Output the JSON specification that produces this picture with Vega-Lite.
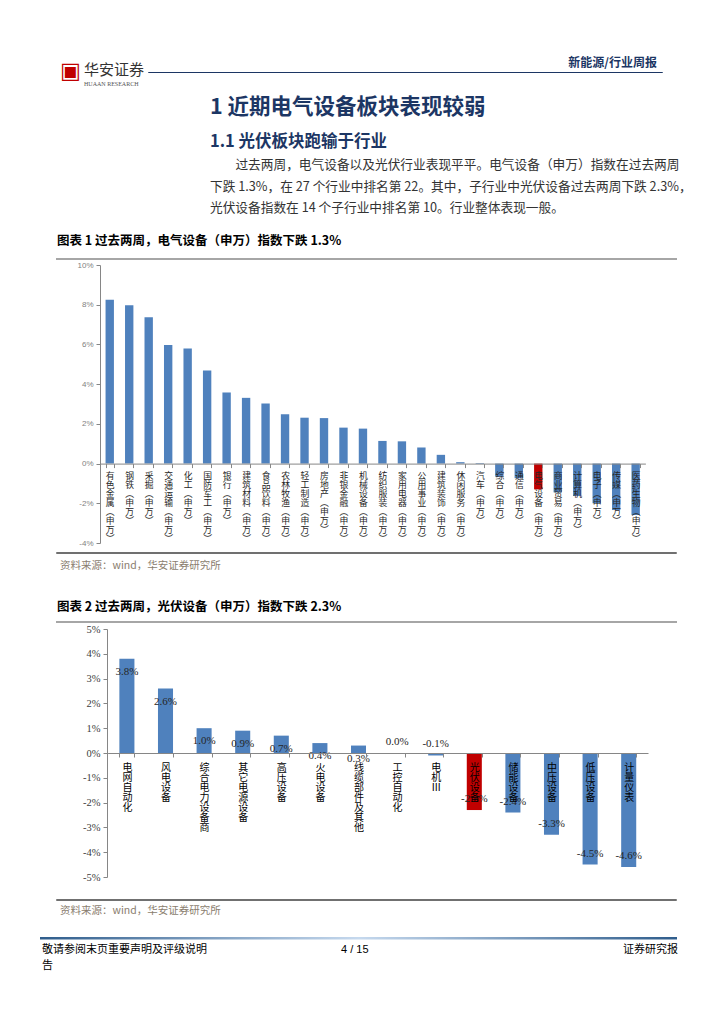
{
  "$schema": "https://vega.github.io/schema/vega-lite/v6.json",
  "background": "white",
  "padding": {"left": 40, "top": 0, "right": 0, "bottom": 0},
  "autosize": {"type": "pad"},
  "config": {
    "view": {"stroke": null},
    "locale": {"number": {"decimal": ".", "thousands": ",", "grouping": [3], "currency": ["", ""], "minus": "-"}},
    "title": {"anchor": "start", "frame": "group", "limit": 2000, "font": "Noto Sans CJK SC", "fontWeight": "normal", "color": "#000000"}
  },
  "datasets": {
    "blank": [{}],
    "industry": [
      {"name": "有色金属(申万)", "value": 0.0825},
      {"name": "钢铁(申万)", "value": 0.0797},
      {"name": "采掘(申万)", "value": 0.0737},
      {"name": "交通运输(申万)", "value": 0.0597},
      {"name": "化工(申万)", "value": 0.0580},
      {"name": "国防军工(申万)", "value": 0.0469},
      {"name": "银行(申万)", "value": 0.0358},
      {"name": "建筑材料(申万)", "value": 0.0331},
      {"name": "食品饮料(申万)", "value": 0.0302},
      {"name": "农林牧渔(申万)", "value": 0.0249},
      {"name": "轻工制造(申万)", "value": 0.0231},
      {"name": "房地产(申万)", "value": 0.0229},
      {"name": "非银金融(申万)", "value": 0.0181},
      {"name": "机械设备(申万)", "value": 0.0176},
      {"name": "纺织服装(申万)", "value": 0.0114},
      {"name": "家用电器(申万)", "value": 0.0112},
      {"name": "公用事业(申万)", "value": 0.0081},
      {"name": "建筑装饰(申万)", "value": 0.0044},
      {"name": "休闲服务(申万)", "value": 0.0007},
      {"name": "汽车(申万)", "value": 0.0003},
      {"name": "综合(申万)", "value": -0.0066},
      {"name": "通信(申万)", "value": -0.0074},
      {"name": "电气设备(申万)", "value": -0.013},
      {"name": "商业贸易(申万)", "value": -0.0145},
      {"name": "计算机(申万)", "value": -0.0163},
      {"name": "电子(申万)", "value": -0.020},
      {"name": "传媒(申万)", "value": -0.0234},
      {"name": "医药生物(申万)", "value": -0.0259}
    ],
    "pv": [
      {"name": "电网自动化", "value": 0.038},
      {"name": "风电设备", "value": 0.026},
      {"name": "综合电力设备商", "value": 0.010},
      {"name": "其它电源设备", "value": 0.009},
      {"name": "高压设备", "value": 0.007},
      {"name": "火电设备", "value": 0.004},
      {"name": "线缆部件及其他", "value": 0.003},
      {"name": "工控自动化", "value": 0.0},
      {"name": "电机Ⅲ", "value": -0.001},
      {"name": "光伏设备", "value": -0.023},
      {"name": "储能设备", "value": -0.024},
      {"name": "中压设备", "value": -0.033},
      {"name": "低压设备", "value": -0.045},
      {"name": "计量仪表", "value": -0.046}
    ]
  },
  "spacing": 0,
  "bounds": "flush",
  "vconcat": [
    {"width": 640, "height": 72, "data": {"name": "blank"}, "mark": {"type": "rect", "opacity": 0}},
    {
      "spacing": 0, "bounds": "flush",
      "hconcat": [
        {"width": 20, "height": 0.001, "data": {"name": "blank"}, "mark": {"type": "rect", "opacity": 0}},
        {"width": 22, "height": 0.001, "data": {"name": "blank"}, "mark": {"type": "rect", "opacity": 0},
         "title": {"text": "▣", "font": "DejaVu Sans", "fontSize": 22, "color": "#c00000", "offset": -11}},
        {"width": 66, "height": 0.001, "data": {"name": "blank"}, "mark": {"type": "rect", "opacity": 0},
         "title": {"text": "华安证券", "fontSize": 15, "color": "#333333", "dx": 2, "offset": -15,
                   "subtitle": "HUAAN RESEARCH", "subtitleFont": "Liberation Serif", "subtitleFontSize": 6, "subtitleColor": "#555555", "subtitlePadding": 3}},
        {"width": 514, "height": 0.001, "data": {"name": "blank"}, "mark": {"type": "rect", "opacity": 0},
         "view": {"stroke": "#1c3664", "strokeWidth": 1},
         "title": {"text": "新能源/行业周报", "anchor": "end", "dx": -5, "offset": 2, "fontSize": 12, "fontWeight": "bold", "color": "#1c3664"}}
      ]
    },
    {"width": 640, "height": 78, "data": {"name": "blank"}, "mark": {"type": "rect", "opacity": 0}},
    {"width": 640, "height": 22, "data": {"name": "blank"}, "mark": {"type": "rect", "opacity": 0},
     "title": {"text": "1  近期电气设备板块表现较弱", "fontSize": 21.5, "fontWeight": "bold", "color": "#1c3664", "dx": 170, "offset": 0,
               "subtitle": "1.1 光伏板块跑输于行业", "subtitleFont": "Noto Sans CJK SC", "subtitleFontSize": 16.5, "subtitleFontWeight": "bold", "subtitleColor": "#1c3664", "subtitlePadding": 15}},
    {"width": 640, "height": 42, "data": {"name": "blank"}, "mark": {"type": "rect", "opacity": 0},
     "title": {"text": "过去两周，电气设备以及光伏行业表现平平。电气设备（申万）指数在过去两周", "fontSize": 12.7, "color": "#333333", "dx": 195.4, "offset": 0}},
    {"width": 640, "height": 45, "data": {"name": "blank"}, "mark": {"type": "rect", "opacity": 0},
     "title": {"text": ["下跌 1.3%，在 27 个行业中排名第 22。其中，子行业中光伏设备过去两周下跌 2.3%，", "光伏设备指数在 14 个子行业中排名第 10。行业整体表现一般。"],
               "fontSize": 12.7, "lineHeight": 21, "color": "#333333", "dx": 170, "offset": -1}},
    {
      "spacing": 0, "bounds": "flush",
      "hconcat": [
        {"width": 17, "height": 0.001, "data": {"name": "blank"}, "mark": {"type": "rect", "opacity": 0}},
        {"width": 619, "height": 0.001, "data": {"name": "blank"}, "mark": {"type": "rect", "opacity": 0},
         "view": {"stroke": "#a6a6a6", "strokeWidth": 2},
         "title": {"text": "图表 1 过去两周，电气设备（申万）指数下跌 1.3%", "fontSize": 12.5, "fontWeight": "bold", "color": "#000000", "offset": 12}}
      ]
    },
    {
      "width": 640, "height": 294,
      "data": {"name": "industry"},
      "mark": {"type": "bar"},
      "encoding": {
        "x": {"field": "name", "type": "nominal", "sort": null,
              "scale": {"range": [60, 605.4], "paddingInner": 0.57, "paddingOuter": 0.285},
              "axis": {"title": null, "offset": -89.4, "zindex": 1, "labelAngle": 0, "labelOverlap": false, "labelBaseline": "top", "labelAlign": "center",
                       "labelExpr": "split(replace(replace(datum.label, '(', '︵'), ')', '︶'), '')",
                       "labelFont": "Noto Sans CJK SC", "labelFontSize": 8.8, "labelLineHeight": 9, "labelColor": "#262626", "labelPadding": 4,
                       "tickBand": "extent", "tickSize": 4, "tickColor": "#868686", "domainColor": "#868686"}},
        "y": {"field": "value", "type": "quantitative",
              "scale": {"domain": [-0.04, 0.1], "range": [284, 6], "nice": false, "zero": false},
              "axis": {"title": null, "offset": -60, "values": [-0.04, -0.02, 0, 0.02, 0.04, 0.06, 0.08, 0.1], "format": ".0%", "grid": false,
                       "labelFont": "Liberation Sans", "labelFontSize": 8, "labelColor": "#7f7f7f", "labelPadding": 3,
                       "tickSize": 4, "tickColor": "#868686", "domainColor": "#868686"}},
        "color": {"condition": {"test": "datum.name === '电气设备(申万)'", "value": "#c00000"}, "value": "#4f81bd"}
      }
    },
    {
      "spacing": 0, "bounds": "flush",
      "hconcat": [
        {"width": 17, "height": 0.001, "data": {"name": "blank"}, "mark": {"type": "rect", "opacity": 0}},
        {"width": 619, "height": 0.001, "data": {"name": "blank"}, "mark": {"type": "rect", "opacity": 0},
         "view": {"stroke": "#404040", "strokeWidth": 1.5},
         "title": {"text": "资料来源：wind，华安证券研究所", "orient": "bottom", "fontSize": 10.5, "color": "#8a7d6e", "dx": 3, "offset": 7.5}}
      ]
    },
    {"width": 640, "height": 69, "data": {"name": "blank"}, "mark": {"type": "rect", "opacity": 0}},
    {
      "spacing": 0, "bounds": "flush",
      "hconcat": [
        {"width": 17, "height": 0.001, "data": {"name": "blank"}, "mark": {"type": "rect", "opacity": 0}},
        {"width": 619, "height": 0.001, "data": {"name": "blank"}, "mark": {"type": "rect", "opacity": 0},
         "view": {"stroke": "#a6a6a6", "strokeWidth": 2},
         "title": {"text": "图表 2 过去两周，光伏设备（申万）指数下跌 2.3%", "fontSize": 12.5, "fontWeight": "bold", "color": "#000000", "offset": 8.5}}
      ]
    },
    {
      "width": 640, "height": 278,
      "data": {"name": "pv"},
      "encoding": {
        "x": {"field": "name", "type": "nominal", "sort": null,
              "scale": {"range": [67.6, 608], "paddingInner": 0.61, "paddingOuter": 0.305},
              "axis": {"title": null, "offset": -147, "zindex": 1, "labelAngle": 0, "labelOverlap": false, "labelBaseline": "top", "labelAlign": "center",
                       "labelExpr": "split(datum.label, '')",
                       "labelFont": "Noto Sans CJK SC", "labelFontSize": 10, "labelLineHeight": 10, "labelColor": "#000000", "labelPadding": 5,
                       "tickBand": "extent", "tickSize": 4, "tickColor": "#868686", "domainColor": "#868686"}},
        "y": {"field": "value", "type": "quantitative",
              "scale": {"domain": [-0.05, 0.05], "range": [255, 7], "nice": false, "zero": false},
              "axis": {"title": null, "offset": -67, "values": [-0.05, -0.04, -0.03, -0.02, -0.01, 0, 0.01, 0.02, 0.03, 0.04, 0.05], "format": ".0%", "grid": false,
                       "labelFont": "Liberation Serif", "labelFontSize": 10.5, "labelColor": "#404040", "labelPadding": 3,
                       "tickSize": 4, "tickColor": "#868686", "domainColor": "#868686"}}
      },
      "layer": [
        {"mark": {"type": "bar"},
         "encoding": {"color": {"condition": {"test": "datum.name === '光伏设备'", "value": "#c00000"}, "value": "#4f81bd"}}},
        {"transform": [{"filter": "datum.value > 0"}],
         "mark": {"type": "text", "font": "Liberation Serif", "fontSize": 11, "color": "#262626", "dy": 13, "baseline": "middle"},
         "encoding": {"text": {"field": "value", "type": "quantitative", "format": ".1%"}}},
        {"transform": [{"filter": "datum.value <= 0"}],
         "mark": {"type": "text", "font": "Liberation Serif", "fontSize": 11, "color": "#262626", "dy": -11, "baseline": "middle"},
         "encoding": {"text": {"field": "value", "type": "quantitative", "format": ".1%"}}}
      ]
    },
    {
      "spacing": 0, "bounds": "flush",
      "hconcat": [
        {"width": 17, "height": 0.001, "data": {"name": "blank"}, "mark": {"type": "rect", "opacity": 0}},
        {"width": 619, "height": 0.001, "data": {"name": "blank"}, "mark": {"type": "rect", "opacity": 0},
         "view": {"stroke": "#404040", "strokeWidth": 1.5},
         "title": {"text": "资料来源：wind，华安证券研究所", "orient": "bottom", "fontSize": 10.5, "color": "#8a7d6e", "dx": 3, "offset": 5.5}}
      ]
    },
    {"width": 640, "height": 37, "data": {"name": "blank"}, "mark": {"type": "rect", "opacity": 0}},
    {"width": 637, "height": 2.5, "data": {"name": "blank"}, "mark": {"type": "rect", "opacity": 0},
     "view": {"stroke": null, "fill": {"gradient": "linear", "x1": 0, "x2": 1, "y1": 0, "y2": 0, "stops": [{"offset": 0, "color": "#2f5d8c"}, {"offset": 0.5, "color": "#c6d9ee"}, {"offset": 1, "color": "#2f5d8c"}]}}},
    {
      "spacing": 0, "bounds": "flush",
      "hconcat": [
        {"width": 301, "height": 0.001, "data": {"name": "blank"}, "mark": {"type": "rect", "opacity": 0},
         "title": {"text": ["敬请参阅末页重要声明及评级说明", "告"], "orient": "bottom", "fontSize": 11, "lineHeight": 16, "color": "#000000", "dx": 2, "offset": 3.5}},
        {"width": 282, "height": 0.001, "data": {"name": "blank"}, "mark": {"type": "rect", "opacity": 0},
         "title": {"text": "4 / 15", "orient": "bottom", "font": "Liberation Sans", "fontSize": 11, "color": "#000000", "offset": 3.5}},
        {"width": 55, "height": 0.001, "data": {"name": "blank"}, "mark": {"type": "rect", "opacity": 0},
         "title": {"text": "证券研究报", "orient": "bottom", "fontSize": 11, "color": "#000000", "offset": 3.5}}
      ]
    }
  ]
}
